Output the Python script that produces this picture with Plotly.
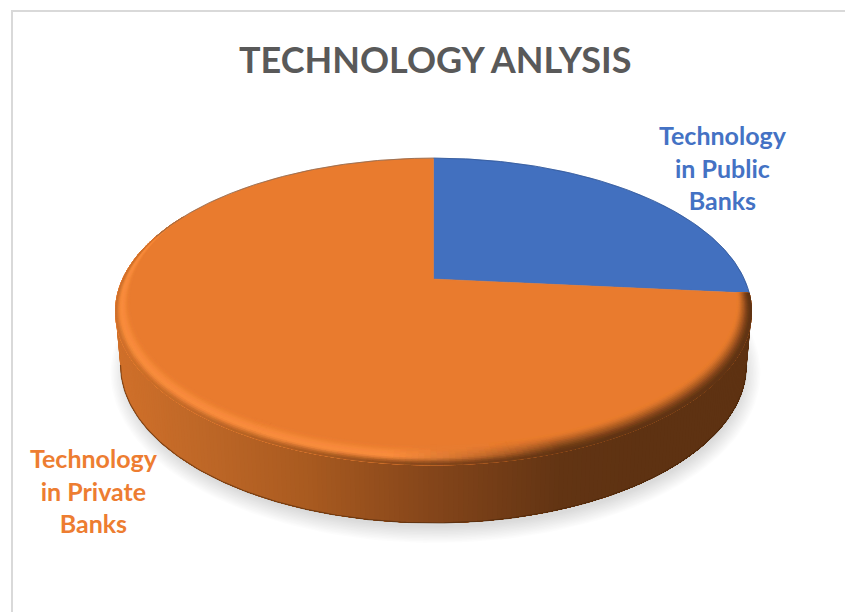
import numpy as np
import plotly.graph_objects as go

# Pie contents
categories = ["Technology<br>in Public<br>Banks", "Technology<br>in Private<br>Banks"]
values = [26.5, 73.5]
slice_colors = ["#4270BF", "#E97B2E"]
label_colors = ["#4472C4", "#ED7D31"]
edge_colors = ["#2F5597", "#8A6A55"]
title_text = "TECHNOLOGY ANLYSIS"

# Pixel-like canvas and the perspective used for the disc
W, H = 845, 612
CX, APEX_Y = 433.5, 279.0
TILT, HALF_Y = 0.212, 146.5
HALF_X = 318 * np.sqrt(1 - TILT ** 2)
ELL_Y = APEX_Y + (HALF_Y / (1 - TILT) - HALF_Y / (1 + TILT)) / 2
ELL_RY = HALF_Y * (1 / (1 - TILT) + 1 / (1 + TILT)) / 2
BASE_Y, BASE_RX, BASE_RY = 365.0, 313.0, 158.0

# Shading of the outer wall, left to right
wall_x = [116, 200, 300, 430, 560, 640, 752]
wall_rgb = [(208, 112, 42), (190, 103, 39), (170, 91, 32), (132, 69, 26),
            (98, 52, 19), (94, 50, 18), (94, 50, 18)]
FACE = np.array((233, 123, 46), float)
GLOW = np.array((250, 140, 60), float)


def project(phi, r=1.0):
    """Disc point (clockwise angle from 12 o'clock, radius) to canvas."""
    u, v = r * np.sin(phi), -r * np.cos(phi)
    w = 1 - TILT * v
    return CX + HALF_X * u / w, APEX_Y + HALF_Y * v / w


def wall_color(x):
    return np.array([np.interp(x, wall_x, [c[i] for c in wall_rgb]) for i in range(3)])


def css(rgb):
    return "rgb(%d,%d,%d)" % tuple(int(round(c)) for c in rgb)


def ease(s):
    return s * s * (3 - 2 * s)


fig = go.Figure()


def polygon(xs, ys, color, width=0.8):
    fig.add_trace(go.Scatter(x=xs, y=ys, mode="lines", fill="toself", fillcolor=color,
                             line=dict(color=color, width=width), hoverinfo="skip",
                             showlegend=False))


# Soft shadow under the disc
t = np.linspace(0, 2 * np.pi, 181)
for grow in np.linspace(12, -4, 12):
    polygon(CX + 2 + (BASE_RX + grow) * np.cos(t), 373 + (BASE_RY + grow) * np.sin(t),
            "rgba(0,0,0,0.011)", width=0)

# Outer wall: painted left to right, each pass covering all that remains,
# so neighbouring shades leave no seams
for start in np.linspace(np.pi, 0, 201)[:-1]:
    arc = np.linspace(start, 0, 60)
    top_x, top_y = CX + 318 * np.cos(arc), ELL_Y + ELL_RY * np.sin(arc)
    low_x, low_y = CX + BASE_RX * np.cos(arc), BASE_Y + BASE_RY * np.sin(arc)
    polygon(np.r_[top_x, low_x[::-1]], np.r_[top_y, low_y[::-1]],
            css(wall_color(top_x[0])), width=0)

# Darker lip along the bottom of the wall
t = np.linspace(np.pi, 0, 181)
fig.add_trace(go.Scatter(x=CX + BASE_RX * np.cos(t), y=BASE_Y + BASE_RY * np.sin(t), mode="lines",
                         line=dict(color="rgba(70,36,10,0.55)", width=1.2),
                         hoverinfo="skip", showlegend=False))

# Top face: one wedge per value
fractions = np.array(values) / sum(values)
bounds = np.concatenate([[0], np.cumsum(fractions)]) * 2 * np.pi
for a0, a1, fill_c in zip(bounds[:-1], bounds[1:], slice_colors):
    phi = np.linspace(a0, a1, 241)
    px, py = project(phi)
    polygon(np.r_[CX, px, CX], np.r_[APEX_Y, py, APEX_Y], fill_c, width=0.5)

# Bevel around the near rim of the private-bank wedge, painted from the
# inner ring outwards so the colour changes stay smooth
phis = np.linspace(bounds[1], 2 * np.pi * 0.84, 220)
rings = np.linspace(0, 1, 13)
for q0, q1 in zip(rings[:-1], rings[1:]):
    q = (q0 + q1) / 2
    groups = {}
    for p0, p1 in zip(phis[:-1], phis[1:]):
        pm = (p0 + p1) / 2
        front = -np.cos(pm)
        width = 0.035 + (0.05 * front if front > 0 else 0.07 * front)
        if width <= 0.002:
            continue
        dark = np.clip((np.sin(pm) + 0.12) / 0.45, 0, 1)
        fade = np.clip((front + 0.5) / 0.3, 0, 1)
        r0 = 1 - width * (1 - q0)
        x0, y0 = project(np.array([p0, p1, p1, p0]), np.array([r0, r0, 1.0, 1.0]))
        wall = wall_color(np.mean(x0))
        if q < 0.6:
            lit = FACE + (GLOW - FACE) * ease(q / 0.6)
        else:
            lit = GLOW + (wall - GLOW) * ease((q - 0.6) / 0.4)
        shaded = FACE + (wall - FACE) * ease(q)
        col = lit + (shaded - lit) * dark
        col = FACE + (col - FACE) * fade
        key = css(np.round(col / 4) * 4)
        g = groups.setdefault(key, ([], []))
        g[0].extend(list(x0) + [x0[0], None])
        g[1].extend(list(y0) + [y0[0], None])
    for col, (gx, gy) in groups.items():
        polygon(gx, gy, col, width=0.4)

# Fine dark outline along the far edge of each wedge
for a0, a1, line_c in zip(bounds[:-1], [bounds[1], 2 * np.pi], edge_colors):
    start = a0 if a0 == 0 else 2 * np.pi * 0.80
    phi = np.linspace(start, a1, 121)
    px, py = project(phi)
    fig.add_trace(go.Scatter(x=px, y=py, mode="lines", line=dict(color=line_c, width=1),
                             opacity=0.8, hoverinfo="skip", showlegend=False))

# Text
label_font = "Lato, Carlito, sans-serif"
fig.add_annotation(x=435, y=59, text="<b>%s</b>" % title_text, showarrow=False,
                   font=dict(family=label_font, size=36, color="#595959"))
fig.add_annotation(x=723, y=167, text="<b>%s</b>" % categories[0], showarrow=False,
                   font=dict(family=label_font, size=25, color=label_colors[0]))
fig.add_annotation(x=93.5, y=490, text="<b>%s</b>" % categories[1], showarrow=False,
                   font=dict(family=label_font, size=25, color=label_colors[1]))

fig.update_layout(
    width=W, height=H, margin=dict(l=0, r=0, t=0, b=0),
    paper_bgcolor="white", plot_bgcolor="white", showlegend=False,
    xaxis=dict(range=[0, W], visible=False, fixedrange=True),
    yaxis=dict(range=[H, 0], visible=False, fixedrange=True),
    shapes=[dict(type="line", x0=12, x1=12, y0=11, y1=H, line=dict(color="#D9D9D9", width=2)),
            dict(type="line", x0=11, x1=W, y0=11, y1=11, line=dict(color="#D9D9D9", width=2))],
)

fig.write_html("out.html")
